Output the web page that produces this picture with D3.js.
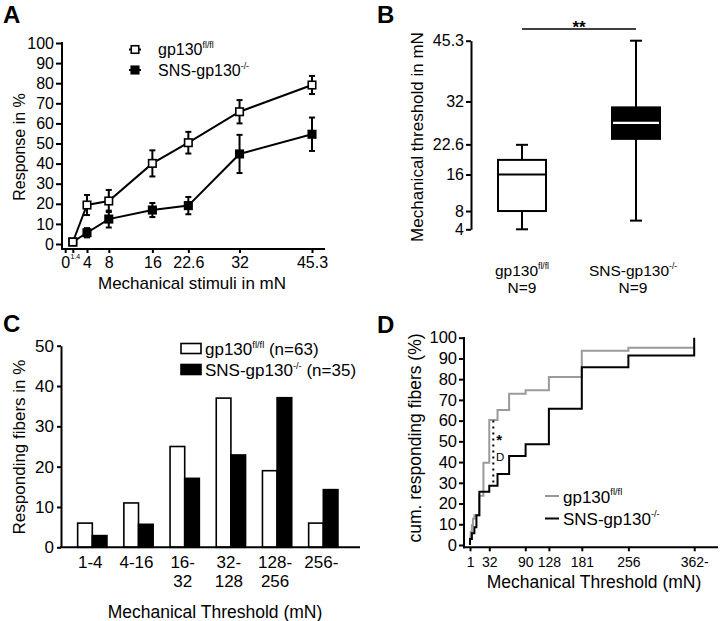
<!DOCTYPE html>
<html><head><meta charset="utf-8">
<script src="https://cdn.jsdelivr.net/npm/d3@7"></script>
<style>
body{margin:0;background:#fff}
svg{display:block}
text{font-family:'Liberation Sans',Arial,Helvetica,sans-serif;fill:#000}
</style>
</head><body>
<svg id="c" width="720" height="621"></svg>
<script>
// ---------- Panel A data ----------
const stimuli = [1.4, 4, 8, 16, 22.6, 32, 45.3];
const ctrlResp = [1, 19.4, 21.4, 40.1, 50.4, 65.8, 79.1];
const ctrlSem  = [1, 5, 5.5, 6.5, 5.4, 5.8, 4.5];
const koResp   = [1, 5.6, 12.4, 16.9, 19.1, 44.8, 54.6];
const koSem    = [1, 2.3, 4.2, 3.5, 4.3, 9.5, 8.3];
const stimTicks = [0, 1.4, 4, 8, 16, 22.6, 32, 45.3];
const respTicks = [0, 10, 20, 30, 40, 50, 60, 70, 80, 90, 100];

// ---------- Panel B data ----------
const groupsB = ["ctrl", "ko"];
const boxCtrl = [4, 8, 16, 19.2, 22.5];   // min, q1, median, q3, max
const boxKo   = [5.9, 23.8, 27.3, 30.7, 45.3];
const thresholdTicks = [4, 8, 16, 22.6, 32, 45.3];

// ---------- Panel C data ----------
const binLabels = [["1-4"], ["4-16"], ["16-", "32"], ["32-", "128"], ["128-", "256"], ["256-"]];
const ctrlPct = [6, 11, 25, 37, 19, 6];
const koPct   = [2.9, 5.7, 17.1, 22.9, 37.1, 14.3];
const pctTicks = [0, 10, 20, 30, 40, 50];

// ---------- Panel D data ----------
const cumX    = [1, 2, 4, 5.7, 8, 11.3, 16, 22.6, 32, 45.3, 64, 90.5, 128, 181, 256, 362];
const ctrlCum = [3.2, 6.3, 9.5, 12.7, 14.3, 14.3, 23.8, 39.7, 60.3, 65.1, 73.0, 74.6, 81.0, 93.7, 95.2, 95.2];
const koCum   = [2.9, 2.9, 5.7, 5.7, 8.6, 14.3, 25.7, 25.7, 28.6, 34.3, 42.9, 48.6, 65.7, 85.7, 91.4, 100];
const cumXTicks = [1, 32, 90, 128, 181, 256, 362];
const cumYTicks = [0, 10, 20, 30, 40, 50, 60, 70, 80, 90, 100];

const FONT = "'Liberation Sans',Arial,Helvetica,sans-serif";
const svg = d3.select("#c");
svg.append("rect").attr("width", 720).attr("height", 621).attr("fill", "#fff");

function styleAxis(g, size) {
  g.attr("font-family", FONT).attr("font-size", size);
  g.selectAll("line").attr("stroke", "#000").attr("stroke-width", 2);
  g.selectAll("path").attr("stroke", "#000").attr("stroke-width", 2);
  g.selectAll("text").attr("fill", "#000");
}
function supLabel(g, x, y, main, sup, tail, size, anchor) {
  const t = g.append("text").attr("x", x).attr("y", y)
    .attr("font-size", size).attr("text-anchor", anchor || "start");
  t.append("tspan").text(main);
  const r = size * 0.42;
  t.append("tspan").attr("font-size", size * 0.55).attr("dy", -r).text(sup);
  if (tail) t.append("tspan").attr("dy", r).text(tail);
  return t;
}
function hline(g, x1, x2, y, w, col) {
  g.append("line").attr("x1", x1).attr("x2", x2).attr("y1", y).attr("y2", y)
    .attr("stroke", col || "#000").attr("stroke-width", w || 2);
}
function vline(g, x, y1, y2, w, col) {
  g.append("line").attr("x1", x).attr("x2", x).attr("y1", y1).attr("y2", y2)
    .attr("stroke", col || "#000").attr("stroke-width", w || 2);
}
function letter(t, x, y) {
  svg.append("text").attr("x", x).attr("y", y).attr("font-size", 24)
    .attr("font-weight", "bold").text(t);
}

// ================= Panel A =================
const gA = svg.append("g");
const xA = d3.scaleLinear().domain([0, 45.3]).range([65.2, 312]);
const yA = d3.scaleLinear().domain([0, 100]).range([244, 43]);
const axAy = gA.append("g").attr("transform", "translate(62,0)")
  .call(d3.axisLeft(yA).tickValues(respTicks).tickSize(6).tickPadding(2).tickSizeOuter(0));
axAy.select(".domain").remove();
styleAxis(axAy, 16);
const axAx = gA.append("g").attr("transform", "translate(0,249)")
  .call(d3.axisBottom(xA).tickValues(stimTicks).tickSize(4).tickPadding(4).tickSizeOuter(0)
    .tickFormat(d => String(d)));
axAx.select(".domain").remove();
styleAxis(axAx, 16);
axAx.selectAll(".tick").filter(d => d === 1.4).select("text")
  .attr("font-size", 7).attr("y", 5).attr("dx", 2);
vline(gA, 62, 42, 250);
hline(gA, 61, 325, 249);

gA.append("text").attr("transform", "translate(24.5,147) rotate(-90)")
  .attr("text-anchor", "middle").attr("font-size", 16).text("Response in %");
gA.append("text").attr("x", 192).attr("y", 289).attr("text-anchor", "middle")
  .attr("font-size", 17).text("Mechanical stimuli in mN");

function drawSeriesA(vals, sems, filled) {
  const pts = stimuli.map((s, i) => [s, vals[i], sems[i]]);
  const eb = gA.append("g");
  pts.forEach(p => {
    vline(eb, xA(p[0]), yA(p[1] + p[2]), yA(p[1] - p[2]), 2);
    hline(eb, xA(p[0]) - 3, xA(p[0]) + 3, yA(p[1] + p[2]), 2);
    hline(eb, xA(p[0]) - 3, xA(p[0]) + 3, yA(p[1] - p[2]), 2);
  });
  gA.append("path").datum(pts)
    .attr("d", d3.line().x(d => xA(d[0])).y(d => yA(d[1])))
    .attr("fill", "none").attr("stroke", "#000").attr("stroke-width", 2);
  gA.selectAll(null).data(pts).enter().append("rect")
    .attr("x", d => xA(d[0]) - 3.75).attr("y", d => yA(d[1]) - 3.75)
    .attr("width", 7.5).attr("height", 7.5)
    .attr("fill", filled ? "#000" : "#fff").attr("stroke", "#000").attr("stroke-width", 1.6);
}
drawSeriesA(koResp, koSem, true);
drawSeriesA(ctrlResp, ctrlSem, false);

// legend A
[[49.5, false, "gp130", "fl/fl"], [70, true, "SNS-gp130", "-/-"]].forEach(r => {
  hline(gA, 129, 141, r[0], 2);
  gA.append("rect").attr("x", 131.25).attr("y", r[0] - 3.75).attr("width", 7.5).attr("height", 7.5)
    .attr("fill", r[1] ? "#000" : "#fff").attr("stroke", "#000").attr("stroke-width", 1.6);
  supLabel(gA, 158, r[0] + 5.5, r[2], r[3], null, 16);
});
letter("A", 3, 23);

// ================= Panel B =================
const gB = svg.append("g");
const yB = d3.scaleLinear().domain([4, 45.3]).range([229.3, 40.7]);
const xB = d3.scalePoint().domain(groupsB).range([522, 636]);
const axB = gB.append("g").attr("transform", "translate(471,0)")
  .call(d3.axisLeft(yB).tickValues(thresholdTicks).tickSize(5).tickPadding(2).tickSizeOuter(0)
    .tickFormat(d => String(d)));
styleAxis(axB, 16);
gB.append("text").attr("transform", "translate(422.5,137) rotate(-90)")
  .attr("text-anchor", "middle").attr("font-size", 17).text("Mechanical threshold in mN");

function drawBox(key, b, filled) {
  const cx = xB(key), w = 48;
  vline(gB, cx, yB(b[4]), yB(b[3]), 2);
  vline(gB, cx, yB(b[1]), yB(b[0]), 2);
  hline(gB, cx - 6, cx + 6, yB(b[4]), 2);
  hline(gB, cx - 6, cx + 6, yB(b[0]), 2);
  gB.append("rect").attr("x", cx - w / 2).attr("y", yB(b[3]))
    .attr("width", w).attr("height", yB(b[1]) - yB(b[3]))
    .attr("fill", filled ? "#000" : "#fff").attr("stroke", "#000").attr("stroke-width", 2);
  hline(gB, cx - w / 2 + (filled ? 1 : 0), cx + w / 2 - (filled ? 1 : 0), yB(b[2]), 2.2, filled ? "#fff" : "#000");
}
drawBox("ctrl", boxCtrl, false);
drawBox("ko", boxKo, true);

hline(gB, xB("ctrl"), xB("ko"), 29, 1.6);
gB.append("text").attr("x", (xB("ctrl") + xB("ko")) / 2).attr("y", 33)
  .attr("text-anchor", "middle").attr("font-size", 17).attr("font-weight", "bold").text("**");

supLabel(gB, xB("ctrl"), 276, "gp130", "fl/fl", null, 15.5, "middle");
gB.append("text").attr("x", xB("ctrl")).attr("y", 293).attr("text-anchor", "middle").attr("font-size", 15.5).text("N=9");
supLabel(gB, xB("ko") - 3, 276, "SNS-gp130", "-/-", null, 15.5, "middle");
gB.append("text").attr("x", xB("ko") - 3).attr("y", 293).attr("text-anchor", "middle").attr("font-size", 15.5).text("N=9");
letter("B", 377, 23);

// ================= Panel C =================
const gC = svg.append("g");
const xC = d3.scaleBand().domain(d3.range(binLabels.length)).range([69.2, 346.4])
  .paddingInner(0.366).paddingOuter(0.183);
const xC2 = d3.scaleBand().domain(["ctrl", "ko"]).range([0, xC.bandwidth()]);
const yC = d3.scaleLinear().domain([0, 50]).range([547.3, 345.7]);
const axC = gC.append("g").attr("transform", "translate(61,0)")
  .call(d3.axisLeft(yC).tickValues(pctTicks).tickSize(4).tickPadding(3).tickSizeOuter(0));
styleAxis(axC, 17);
gC.append("text").attr("transform", "translate(25.3,447) rotate(-90)")
  .attr("text-anchor", "middle").attr("font-size", 17).text("Responding fibers in %");

gC.selectAll(null).data(ctrlPct).enter().append("rect")
  .attr("x", (d, i) => xC(i) + xC2("ctrl")).attr("width", xC2.bandwidth())
  .attr("y", d => yC(d)).attr("height", d => yC(0) - yC(d))
  .attr("fill", "#fff").attr("stroke", "#000").attr("stroke-width", 1.6);
gC.selectAll(null).data(koPct).enter().append("rect")
  .attr("x", (d, i) => xC(i) + xC2("ko")).attr("width", xC2.bandwidth())
  .attr("y", d => yC(d)).attr("height", d => yC(0) - yC(d))
  .attr("fill", "#000").attr("stroke", "#000").attr("stroke-width", 1.6);
hline(gC, 60, 360, 547.3, 2);

binLabels.forEach((lines, i) => {
  const cx = xC(i) + xC.bandwidth() / 2 - 2;
  lines.forEach((s, j) => {
    gC.append("text").attr("x", cx).attr("y", 568 + j * 19).attr("text-anchor", "middle")
      .attr("font-size", 17).text(s);
  });
});
gC.append("text").attr("x", 215).attr("y", 618).attr("text-anchor", "middle")
  .attr("font-size", 17.5).text("Mechanical Threshold (mN)");

// legend C
gC.append("rect").attr("x", 181).attr("y", 343.5).attr("width", 20).attr("height", 10)
  .attr("fill", "#fff").attr("stroke", "#000").attr("stroke-width", 1.6);
gC.append("rect").attr("x", 181).attr("y", 364.5).attr("width", 20).attr("height", 10)
  .attr("fill", "#000").attr("stroke", "#000").attr("stroke-width", 1.6);
supLabel(gC, 205, 355, "gp130", "fl/fl", " (n=63)", 17);
supLabel(gC, 205, 376, "SNS-gp130", "-/-", " (n=35)", 17);
letter("C", 3, 332);

// ================= Panel D =================
const gD = svg.append("g");
const xD = d3.scaleLinear().domain([0, 362]).range([469.4, 694.2]);
const yD = d3.scaleLinear().domain([0, 100]).range([545, 337.7]);
const axDy = gD.append("g").attr("transform", "translate(464,0)")
  .call(d3.axisLeft(yD).tickValues(cumYTicks).tickSize(5).tickPadding(2).tickSizeOuter(0));
axDy.select(".domain").remove();
styleAxis(axDy, 16.5);
const axDx = gD.append("g").attr("transform", "translate(0,547.3)")
  .call(d3.axisBottom(xD).tickValues(cumXTicks).tickSize(4).tickPadding(6).tickSizeOuter(0)
    .tickFormat(d => d === 362 ? "362-" : String(d)));
axDx.select(".domain").remove();
styleAxis(axDx, 14);
vline(gD, 464, 337, 548.3);
hline(gD, 463, 718, 547.3);

gD.append("text").attr("transform", "translate(420.5,438) rotate(-90)")
  .attr("text-anchor", "middle").attr("font-size", 17.5).text("cum. responding fibers (%)");
gD.append("text").attr("x", 594).attr("y", 588).attr("text-anchor", "middle")
  .attr("font-size", 17.5).text("Mechanical Threshold (mN)");

const stepLine = d3.line().curve(d3.curveStepAfter).x(d => xD(d[0])).y(d => yD(d[1]));
const ctrlPts = [[1, 0]].concat(cumX.map((x, i) => [x, ctrlCum[i]]));
const koPts = [[1, 0]].concat(cumX.map((x, i) => [x, koCum[i]]));
gD.append("path").datum(ctrlPts).attr("d", stepLine).attr("fill", "none")
  .attr("stroke", "#9a9a9a").attr("stroke-width", 2);
gD.append("path").datum(koPts).attr("d", stepLine).attr("fill", "none")
  .attr("stroke", "#000").attr("stroke-width", 2);

// KS distance marker
gD.append("line").attr("x1", xD(38.5)).attr("x2", xD(38.5)).attr("y1", yD(60)).attr("y2", yD(29.5))
  .attr("stroke", "#000").attr("stroke-width", 2).attr("stroke-dasharray", "2,4");
gD.append("text").attr("x", xD(48)).attr("y", 445).attr("text-anchor", "middle")
  .attr("font-size", 15).attr("font-weight", "bold").text("*");
gD.append("text").attr("x", 496).attr("y", 460.5).attr("font-size", 11.5).text("D");

// legend D
hline(gD, 545, 559, 496, 2, "#9a9a9a");
hline(gD, 545, 559, 518.5, 2, "#000");
supLabel(gD, 563, 502.5, "gp130", "fl/fl", null, 17);
supLabel(gD, 563, 524.5, "SNS-gp130", "-/-", null, 17);
letter("D", 377, 333);
</script>
</body></html>
